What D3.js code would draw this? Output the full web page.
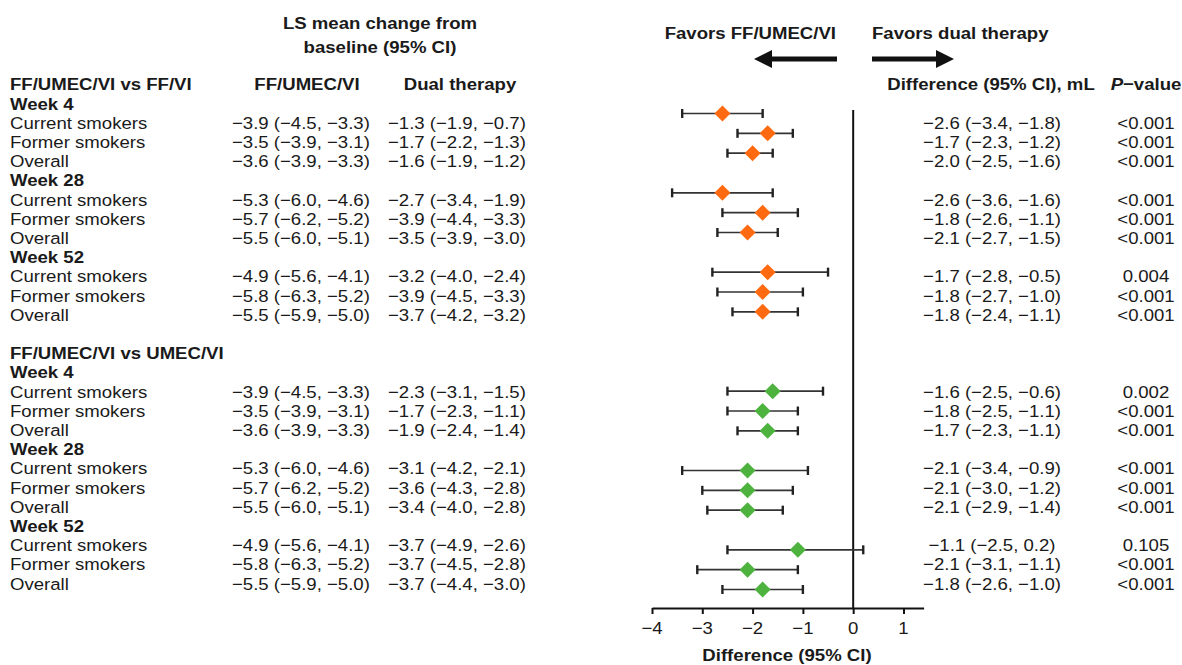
<!DOCTYPE html>
<html>
<head>
<meta charset="utf-8">
<script src="https://cdn.jsdelivr.net/npm/d3@7/dist/d3.min.js"></script>
<style>
  html, body { margin: 0; padding: 0; background: #ffffff; }
  svg { display: block; }
  text { font-family: "Liberation Sans", Arial, sans-serif; fill: #1a1a1a; }
</style>
</head>
<body>
<svg id="chart" width="1182" height="665"></svg>
<script>
// ---------------- DATA ----------------
const comparisons = ["FF/UMEC/VI vs FF/VI", "FF/UMEC/VI vs UMEC/VI"];
const weeks = ["Week 4", "Week 28", "Week 52"];
const subgroups = ["Current smokers", "Former smokers", "Overall"];

// LS mean change from baseline (95% CI) – FF/UMEC/VI  [mean, lo, hi]
const triple = [
  [-3.9, -4.5, -3.3], [-3.5, -3.9, -3.1], [-3.6, -3.9, -3.3],
  [-5.3, -6.0, -4.6], [-5.7, -6.2, -5.2], [-5.5, -6.0, -5.1],
  [-4.9, -5.6, -4.1], [-5.8, -6.3, -5.2], [-5.5, -5.9, -5.0],
  [-3.9, -4.5, -3.3], [-3.5, -3.9, -3.1], [-3.6, -3.9, -3.3],
  [-5.3, -6.0, -4.6], [-5.7, -6.2, -5.2], [-5.5, -6.0, -5.1],
  [-4.9, -5.6, -4.1], [-5.8, -6.3, -5.2], [-5.5, -5.9, -5.0]
];
// LS mean change from baseline (95% CI) – dual therapy
const dual = [
  [-1.3, -1.9, -0.7], [-1.7, -2.2, -1.3], [-1.6, -1.9, -1.2],
  [-2.7, -3.4, -1.9], [-3.9, -4.4, -3.3], [-3.5, -3.9, -3.0],
  [-3.2, -4.0, -2.4], [-3.9, -4.5, -3.3], [-3.7, -4.2, -3.2],
  [-2.3, -3.1, -1.5], [-1.7, -2.3, -1.1], [-1.9, -2.4, -1.4],
  [-3.1, -4.2, -2.1], [-3.6, -4.3, -2.8], [-3.4, -4.0, -2.8],
  [-3.7, -4.9, -2.6], [-3.7, -4.5, -2.8], [-3.7, -4.4, -3.0]
];
// Difference (95% CI), mL
const diffEst = [-2.6, -1.7, -2.0, -2.6, -1.8, -2.1, -1.7, -1.8, -1.8,
                 -1.6, -1.8, -1.7, -2.1, -2.1, -2.1, -1.1, -2.1, -1.8];
const diffLo  = [-3.4, -2.3, -2.5, -3.6, -2.6, -2.7, -2.8, -2.7, -2.4,
                 -2.5, -2.5, -2.3, -3.4, -3.0, -2.9, -2.5, -3.1, -2.6];
const diffHi  = [-1.8, -1.2, -1.6, -1.6, -1.1, -1.5, -0.5, -1.0, -1.1,
                 -0.6, -1.1, -1.1, -0.9, -1.2, -1.4, 0.2, -1.1, -1.0];
const pValues = ["<0.001", "<0.001", "<0.001", "<0.001", "<0.001", "<0.001", "0.004", "<0.001", "<0.001",
                 "0.002", "<0.001", "<0.001", "<0.001", "<0.001", "<0.001", "0.105", "<0.001", "<0.001"];
const markerColors = ["#ff6a10", "#4db33e"];
const xTicks = [-4, -3, -2, -1, 0, 1];

// ---------------- LAYOUT ----------------
const svg = d3.select("#chart");
const SX = 1.1;            // horizontal stretch of the lettering
const FS = 16.9;
const fmt = d3.format(".1f");
const ci = t => `${fmt(t[0])} (${fmt(t[1])}, ${fmt(t[2])})`;

// row index: header 0 / 14, week headers, subgroup rows
const rowIdx = (c, w, s) => c * 14 + 2 + w * 4 + s;
const textY = d3.scaleLinear().domain([0, 26]).range([90.5, 589.7]);
const markY = d3.scaleLinear().domain([2, 26]).range([113.5, 589.5]);
const x = d3.scaleLinear().domain([-4, 1.4]).range([652, 923.6]);

const tg = svg.append("g").attr("transform", `scale(${SX},1)`);
function T(px, py, str, opt = {}) {
  return tg.append("text")
    .attr("x", px / SX).attr("y", py)
    .attr("font-size", opt.size || FS)
    .attr("font-weight", opt.bold ? "bold" : "normal")
    .attr("text-anchor", opt.anchor || "start")
    .text(str);
}

// top headers
T(380, 29, "LS mean change from", { bold: true, anchor: "middle" });
T(380, 53, "baseline (95% CI)", { bold: true, anchor: "middle" });
T(307, textY(0), "FF/UMEC/VI", { bold: true, anchor: "middle" });
T(460, textY(0), "Dual therapy", { bold: true, anchor: "middle" });
T(836, 39, "Favors FF/UMEC/VI", { bold: true, anchor: "end" });
T(872, 39, "Favors dual therapy", { bold: true, anchor: "start" });
T(991, textY(0), "Difference (95% CI), mL", { bold: true, anchor: "middle" });
const ph = T(1146, textY(0), "", { bold: true, anchor: "middle" });
ph.append("tspan").attr("font-style", "italic").text("P");
ph.append("tspan").text("\u2212value");

// arrows
const arrowY = 59;
function arrow(x0, x1) {
  const dir = Math.sign(x1 - x0), hl = 18, hh = 9, sw = 2.6;
  const xb = x1 - dir * hl;
  svg.append("path")
    .attr("d", `M${x0},${arrowY - sw}L${xb},${arrowY - sw}L${xb},${arrowY - hh}L${x1},${arrowY}` +
               `L${xb},${arrowY + hh}L${xb},${arrowY + sw}L${x0},${arrowY + sw}Z`)
    .attr("fill", "#111");
}
arrow(837, 754);
arrow(872, 954);

// left labels and values, right values
comparisons.forEach((comp, c) => {
  T(10, textY(c * 14), comp, { bold: true });
  weeks.forEach((wk, w) => {
    T(10, textY(c * 14 + 1 + w * 4), wk, { bold: true });
    subgroups.forEach((sg, s) => {
      const k = c * 9 + w * 3 + s;
      const yy = textY(rowIdx(c, w, s));
      T(10, yy, sg);
      T(232, yy, ci(triple[k]));
      T(388, yy, ci(dual[k]));
      T(992, yy, ci([diffEst[k], diffLo[k], diffHi[k]]), { anchor: "middle" });
      T(1146, yy, pValues[k], { anchor: "middle" });
    });
  });
});

// forest plot
const plot = svg.append("g");
plot.append("line")
  .attr("x1", x(0)).attr("x2", x(0))
  .attr("y1", 110).attr("y2", 608)
  .attr("stroke", "#111").attr("stroke-width", 2);

const rows = [];
comparisons.forEach((comp, c) => weeks.forEach((wk, w) => subgroups.forEach((sg, s) => {
  const k = c * 9 + w * 3 + s;
  rows.push({ c, k, y: markY(rowIdx(c, w, s)), est: diffEst[k], lo: diffLo[k], hi: diffHi[k] });
})));

const rg = plot.selectAll("g.row").data(rows).join("g").attr("class", "row");
rg.append("line")
  .attr("x1", d => x(d.lo)).attr("x2", d => x(d.hi))
  .attr("y1", d => d.y).attr("y2", d => d.y)
  .attr("stroke", "#333").attr("stroke-width", 1.6);
rg.append("line")
  .attr("x1", d => x(d.lo)).attr("x2", d => x(d.lo))
  .attr("y1", d => d.y - 4.5).attr("y2", d => d.y + 4.5)
  .attr("stroke", "#222").attr("stroke-width", 2.4);
rg.append("line")
  .attr("x1", d => x(d.hi)).attr("x2", d => x(d.hi))
  .attr("y1", d => d.y - 4.5).attr("y2", d => d.y + 4.5)
  .attr("stroke", "#222").attr("stroke-width", 2.4);
rg.append("path")
  .attr("d", d => { const cx = x(d.est), cy = d.y, hw = 8, hh = 8;
    return `M${cx - hw},${cy}L${cx},${cy - hh}L${cx + hw},${cy}L${cx},${cy + hh}Z`; })
  .attr("fill", d => markerColors[d.c]);

// x axis
const axisY = 608;
const ax = plot.append("g").attr("transform", `translate(0,${axisY})`)
  .call(d3.axisBottom(x).tickValues(xTicks).tickSize(6).tickSizeOuter(0).tickFormat(d3.format("d")));
ax.select(".domain").attr("stroke", "#111").attr("stroke-width", 2);
ax.selectAll(".tick line").attr("stroke", "#111").attr("stroke-width", 2);
ax.selectAll(".tick text").remove();
xTicks.forEach(t => T(x(t), 634, d3.format("d")(t), { anchor: "middle" }));
T(787, 661, "Difference (95% CI)", { bold: true, anchor: "middle" });
</script>
</body>
</html>
